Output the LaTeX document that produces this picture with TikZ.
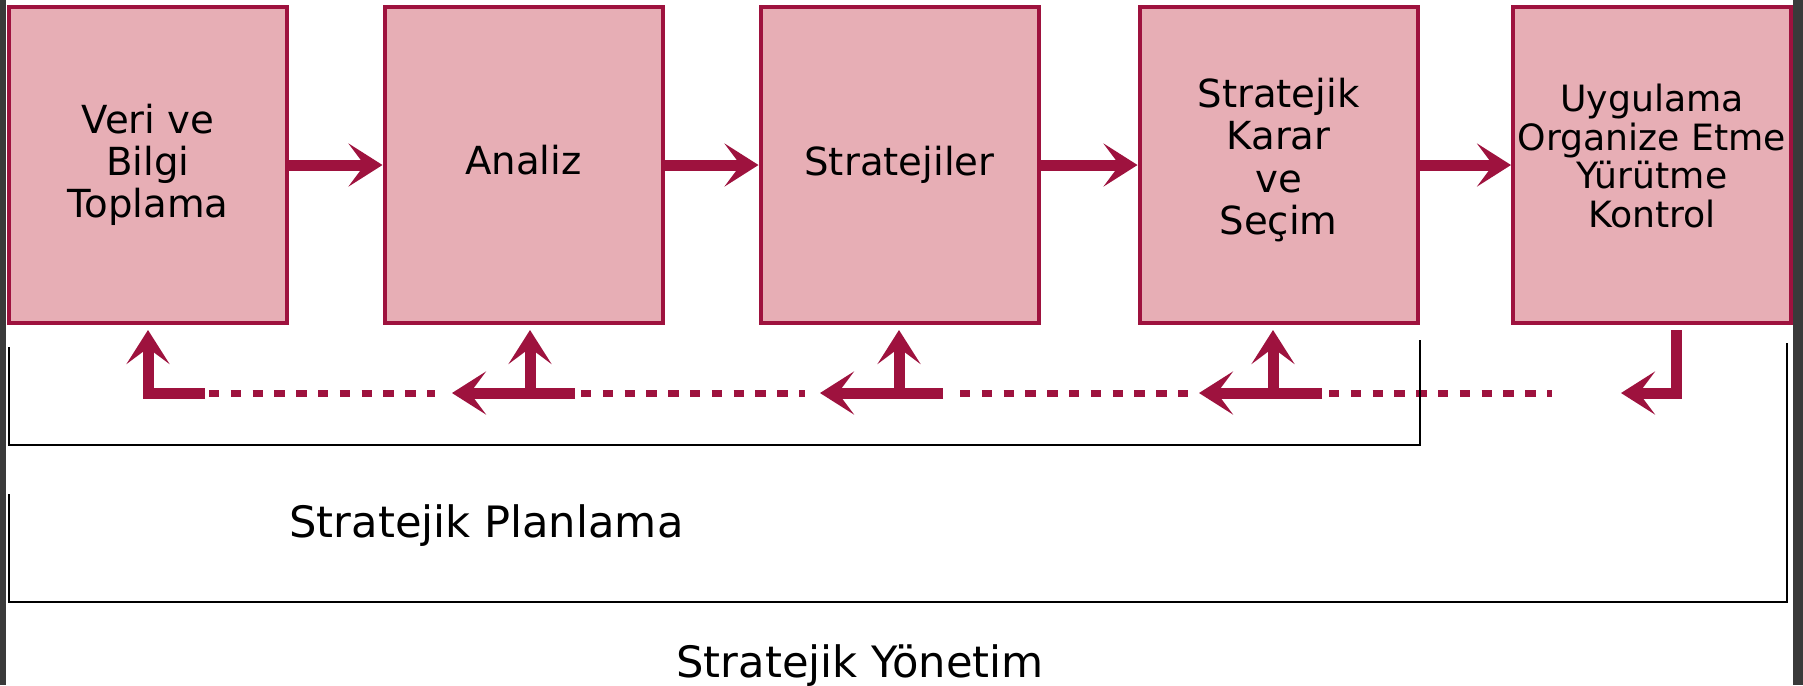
\documentclass[tikz,border=0pt]{standalone}
\usepackage{fontspec}
\setmainfont{DejaVu Sans}
\usetikzlibrary{arrows.meta}
\definecolor{crimson}{RGB}{158,18,62}
\definecolor{rose}{RGB}{231,174,181}
\definecolor{frame}{RGB}{58,58,58}

\begin{document}
\begin{tikzpicture}[x=0.1mm,y=-0.1mm,
  box/.style={draw=crimson, line width=0.4mm, fill=rose, minimum width=27.8mm, minimum height=31.6mm, inner sep=0pt},
  txt/.style={align=center, font=\fontsize{11}{12}\selectfont},
  fwd/.style={crimson, line width=1.1mm, -{Stealth[length=3.4mm,width=4.3mm,inset=1.6mm]}},
  dsh/.style={crimson, line width=0.7mm, dash pattern=on 1.03mm off 1.15mm},
  brk/.style={black, line width=0.2mm}]
\useasboundingbox (0,0) rectangle (1803,685);
\fill[white] (0,0) rectangle (1803,685);
\fill[frame] (0,0) rectangle (6,685);
\fill[frame] (1793,0) rectangle (1803,685);

% the five steps
\node[box] (b1) at (148,165) {};
\node[box] (b2) at (523.5,165) {};
\node[box] (b3) at (899.5,165) {};
\node[box] (b4) at (1278.5,165) {};
\node[box] (b5) at (1652,165) {};
\node[txt] (l1) at (b1) {Veri ve\\Bilgi\\Toplama};
\node[txt] (l2) at ([yshift=0.5mm]b2.center) {Analiz};
\node[txt] (l3) at (b3) {Stratejiler};
\node[txt] (l4) at ([yshift=0.5mm]b4.center) {Stratejik\\Karar\\ve\\Seçim};
\node[txt, font=\fontsize{10.3}{11}\selectfont] (l5) at ([yshift=0.9mm]b5.center) {Uygulama\\Organize Etme\\Yürütme\\Kontrol};

\draw[fwd] (b1) -- (b2);
\draw[fwd] (b2) -- (b3);
\draw[fwd] (b3) -- (b4);
\draw[fwd] (b4) -- (b5);

% feedback row
\coordinate (s1) at (205,393);
\coordinate (h2) at (575,393); \coordinate (t2) at (452,393); \coordinate (u2) at (530,393);
\coordinate (h3) at (943,393); \coordinate (t3) at (820,393); \coordinate (u3) at (899,393);
\coordinate (h4) at (1322,393); \coordinate (t4) at (1199,393); \coordinate (u4) at (1273,393);
\coordinate (t5) at (1621,393);

\draw[fwd, shorten >=0.5mm] (s1) -| (b1.south);
\draw[fwd] (h2) -- (t2);
\draw[fwd, shorten >=0.5mm] (u2) -- (u2 |- b2.south);
\draw[fwd] (h3) -- (t3);
\draw[fwd, shorten >=0.5mm] (u3) -- (u3 |- b3.south);
\draw[fwd] (h4) -- (t4);
\draw[fwd, shorten >=0.5mm] (u4) -- (u4 |- b4.south);
\draw[fwd, shorten <=0.5mm] ([xshift=2.4mm]b5.south) |- (t5);
\foreach \a/\b in {209/435, 581/805, 960/1190, 1329/1552}
  \draw[dsh] (\a,393) -- (\b,393);

% brackets
\draw[brk] (9,347) -- (9,445) -- (1420,445) -- (1420,340);
\draw[brk] (9,494) -- (9,602) -- (1787,602) -- (1787,343);
\node[anchor=base west, font=\fontsize{12.3}{14}\selectfont] (plan) at (277,537) {Stratejik Planlama};
\node[anchor=base west, font=\fontsize{12.3}{14}\selectfont] (yon) at (664,677) {Stratejik Yönetim};
\end{tikzpicture}
\end{document}
